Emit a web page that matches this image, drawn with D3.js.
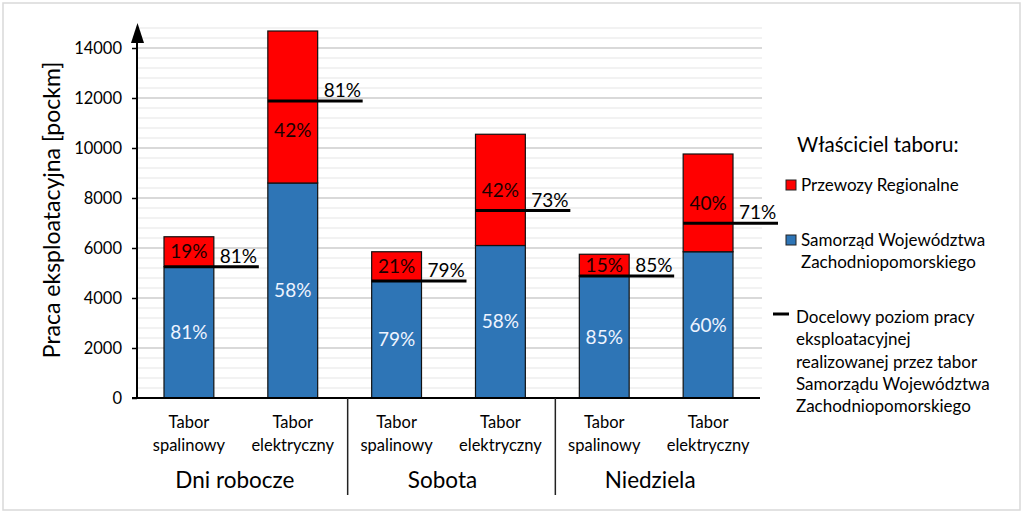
<!DOCTYPE html>
<html>
<head>
<meta charset="utf-8">
<script src="https://cdn.jsdelivr.net/npm/d3@7"></script>
<style>
    body { margin: 0; background: #fff; }
    svg { display: block; font-family: Lato, "Open Sans", sans-serif; }
</style>
</head>
<body>
<svg id="chart"></svg>
<script>
// data
const groups = ["Dni robocze", "Sobota", "Niedziela"];
const barGroups = [0, 0, 1, 1, 2, 2];
const barLabels = [["Tabor", "spalinowy"], ["Tabor", "elektryczny"], ["Tabor", "spalinowy"],
    ["Tabor", "elektryczny"], ["Tabor", "spalinowy"], ["Tabor", "elektryczny"]];
const samorzadValues = [5250, 8600, 4680, 6100, 4880, 5850];
const przewozyValues = [1200, 6080, 1170, 4450, 870, 3910];
const samorzadPct = ["81%", "58%", "79%", "58%", "85%", "60%"];
const przewozyPct = ["19%", "42%", "21%", "42%", "15%", "40%"];
const targetValues = [5250, 11880, 4680, 7500, 4880, 6990];
const targetPct = ["81%", "81%", "79%", "73%", "85%", "71%"];
const yTicks = [0, 2000, 4000, 6000, 8000, 10000, 12000, 14000];
const legendTitle = "Właściciel taboru:";
const legendItems = [
    {type: "rect", color: "#ff0000", lines: ["Przewozy Regionalne"]},
    {type: "rect", color: "#2e75b6", lines: ["Samorząd Województwa", "Zachodniopomorskiego"]},
    {type: "line", color: "#000", lines: ["Docelowy poziom pracy", "eksploatacyjnej",
        "realizowanej przez tabor", "Samorządu Województwa", "Zachodniopomorskiego"]}
];

const width = 1024, height = 514;
const RED = "#ff0000", BLUE = "#2e75b6";

const svg = d3.select("#chart").attr("width", width).attr("height", height);

// outer frame
svg.append("rect")
    .attr("x", 3).attr("y", 3).attr("width", 1017).attr("height", 507)
    .attr("fill", "#fff").attr("stroke", "#d9d9d9").attr("stroke-width", 1.5);

const x = d3.scaleBand()
    .domain(d3.range(samorzadValues.length))
    .range([137, 760])
    .paddingInner(0.52)
    .paddingOuter(0.26);

const y = d3.scaleLinear().domain([0, 14800]).range([398, 28]);

// grid: minor every 400, major every 2000
const grid = svg.append("g");
grid.selectAll("line.minor")
    .data(d3.range(400, 14801, 400).filter(v => v % 2000 !== 0))
    .enter().append("line")
    .attr("class", "minor")
    .attr("x1", 137).attr("x2", 762)
    .attr("y1", d => y(d)).attr("y2", d => y(d))
    .attr("stroke", "#eeeeee").attr("stroke-width", 1.5);
grid.selectAll("line.major")
    .data(yTicks.filter(v => v > 0))
    .enter().append("line")
    .attr("class", "major")
    .attr("x1", 137).attr("x2", 762)
    .attr("y1", d => y(d)).attr("y2", d => y(d))
    .attr("stroke", "#d9d9d9").attr("stroke-width", 2);

// y axis
const yAxis = svg.append("g")
    .attr("transform", "translate(137,0)")
    .call(d3.axisLeft(y).tickValues(yTicks).tickSize(5).tickPadding(10).tickFormat(d3.format("d")));
yAxis.select(".domain").remove();
yAxis.selectAll(".tick line").attr("stroke", "#000").attr("stroke-width", 1.5);
yAxis.selectAll(".tick text").attr("font-size", 16.5).attr("fill", "#000").attr("font-family", "Lato");

svg.append("line")
    .attr("x1", 137).attr("x2", 137).attr("y1", 398).attr("y2", 40)
    .attr("stroke", "#000").attr("stroke-width", 2);
svg.append("path")
    .attr("d", "M131,43 L137.5,23 L144,43 Z")
    .attr("fill", "#000");

svg.append("text")
    .attr("transform", "translate(60,210) rotate(-90)")
    .attr("text-anchor", "middle")
    .attr("font-size", 23)
    .text("Praca eksploatacyjna [pockm]");

// bars
const bars = svg.append("g");
bars.selectAll("rect.blue")
    .data(samorzadValues)
    .enter().append("rect")
    .attr("x", (d, i) => x(i)).attr("width", x.bandwidth())
    .attr("y", d => y(d)).attr("height", d => y(0) - y(d))
    .attr("fill", BLUE).attr("stroke", "#111").attr("stroke-width", 1.2);
bars.selectAll("rect.red")
    .data(przewozyValues)
    .enter().append("rect")
    .attr("x", (d, i) => x(i)).attr("width", x.bandwidth())
    .attr("y", (d, i) => y(samorzadValues[i] + d))
    .attr("height", (d, i) => y(samorzadValues[i]) - y(samorzadValues[i] + d))
    .attr("fill", RED).attr("stroke", "#111").attr("stroke-width", 1.2);

// labels in bars
svg.selectAll("text.bluePct")
    .data(samorzadPct)
    .enter().append("text")
    .attr("x", (d, i) => x(i) + x.bandwidth() / 2)
    .attr("y", (d, i) => y(samorzadValues[i] / 2))
    .attr("dy", "0.35em")
    .attr("text-anchor", "middle")
    .attr("font-size", 19).attr("fill", "#eef4ff")
    .text(d => d);

// red label sits in the middle of its segment, unless the target line would cross it
function redLabelY(i) {
    const mid = y(samorzadValues[i] + przewozyValues[i] / 2);
    const ty = y(targetValues[i]);
    const segH = y(samorzadValues[i]) - y(samorzadValues[i] + przewozyValues[i]);
    if (segH > 60 && Math.abs(mid - ty) < 18) return ty + 29;
    return mid;
}
svg.selectAll("text.redPct")
    .data(przewozyPct)
    .enter().append("text")
    .attr("x", (d, i) => x(i) + x.bandwidth() / 2)
    .attr("y", (d, i) => redLabelY(i))
    .attr("dy", "0.35em")
    .attr("text-anchor", "middle")
    .attr("font-size", 19).attr("fill", "#1a0000")
    .text(d => d);

// target lines
svg.selectAll("line.target")
    .data(targetValues)
    .enter().append("line")
    .attr("x1", (d, i) => x(i))
    .attr("x2", (d, i) => x(i) + x.bandwidth() + 45)
    .attr("y1", d => y(d)).attr("y2", d => y(d))
    .attr("stroke", "#000").attr("stroke-width", 3);
svg.selectAll("text.target")
    .data(targetPct)
    .enter().append("text")
    .attr("x", (d, i) => x(i) + x.bandwidth() + 6)
    .attr("y", (d, i) => y(targetValues[i]) - 4)
    .attr("font-size", 19).attr("fill", "#000")
    .text(d => d);

// x axis
svg.append("line")
    .attr("x1", 132).attr("x2", 760).attr("y1", 398).attr("y2", 398)
    .attr("stroke", "#000").attr("stroke-width", 2);

barLabels.forEach((lines, i) => {
    const t = svg.append("text")
        .attr("text-anchor", "middle")
        .attr("font-size", 16.5);
    lines.forEach((l, k) => {
        t.append("tspan")
            .attr("x", x(i) + x.bandwidth() / 2)
            .attr("y", 428 + k * 23)
            .text(l);
    });
});

const step = x.step();
groups.forEach((g, gi) => {
    const idx = d3.range(barGroups.length).filter(i => barGroups[i] === gi);
    const cx = d3.mean(idx, i => x(i) + x.bandwidth() / 2);
    svg.append("text")
        .attr("x", cx - 6).attr("y", 488)
        .attr("text-anchor", "middle")
        .attr("font-size", 22.5)
        .text(g);
    if (gi > 0) {
        const sx = x(idx[0]) - step * x.paddingInner() / 2 + 3;
        svg.append("line")
            .attr("x1", sx).attr("x2", sx).attr("y1", 398).attr("y2", 495)
            .attr("stroke", "#222").attr("stroke-width", 1.5);
    }
});

// legend
const legend = svg.append("g");
legend.append("text")
    .attr("x", 797).attr("y", 152)
    .attr("font-size", 20.5)
    .text(legendTitle);

const legendStarts = [185, 240, 317];
legendItems.forEach((item, i) => {
    const cy = legendStarts[i];
    if (item.type === "rect") {
        legend.append("rect")
            .attr("x", 786).attr("y", cy - 5).attr("width", 10).attr("height", 10)
            .attr("fill", item.color).attr("stroke", "#222").attr("stroke-width", 1);
    } else {
        legend.append("line")
            .attr("x1", 773).attr("x2", 789).attr("y1", cy - 3).attr("y2", cy - 3)
            .attr("stroke", item.color).attr("stroke-width", 3);
    }
    const tx = item.type === "rect" ? 801 : 796;
    const t = legend.append("text").attr("font-size", 17);
    item.lines.forEach((l, k) => {
        t.append("tspan")
            .attr("x", tx)
            .attr("y", cy + 6 + k * 22.3)
            .text(l);
    });
});
</script>
</body>
</html>
